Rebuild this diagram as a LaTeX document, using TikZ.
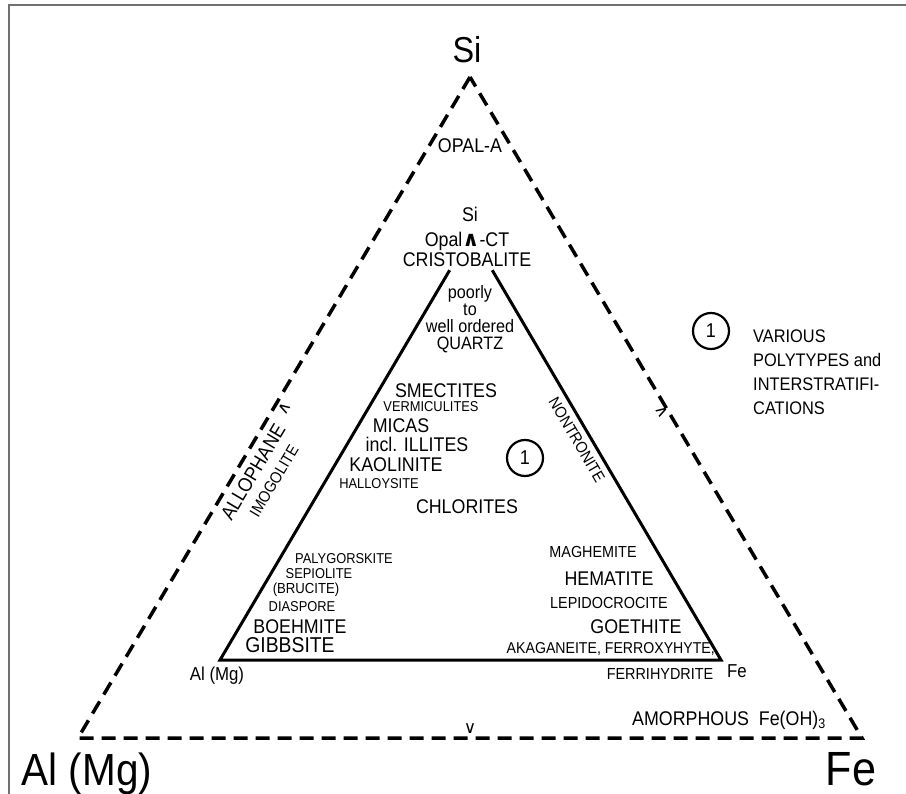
\documentclass[tikz,border=0pt]{standalone}
\usepackage{fontspec}
\setmainfont{Liberation Sans}[FakeStretch=0.9]
\newfontfamily\symbolfont{DejaVu Sans}
\usepackage{tikz}
\usetikzlibrary{calc}
\definecolor{framegray}{RGB}{112,112,112}

\begin{document}
\begin{tikzpicture}[x=1pt,y=-1pt,line join=miter,
  mineral/.style={inner sep=0pt,font=\fontsize{19.8}{21}\selectfont},
  mineralmid/.style={inner sep=0pt,font=\fontsize{16}{18}\selectfont},
  mineralsmall/.style={inner sep=0pt,font=\fontsize{14.3}{16}\selectfont},
  cornerbig/.style={inner sep=0pt,font=\fontsize{45}{49}\selectfont},
  cornersmall/.style={inner sep=0pt,font=\fontsize{18.7}{20}\selectfont},
  sidetick/.style={inner sep=0pt,font=\symbolfont\fontsize{17}{17}\selectfont},
  polynum/.style={draw,circle,line width=2.2pt,minimum size=36pt,inner sep=0pt,
    font=\fontsize{20}{20}\selectfont},
  outerside/.style={line width=3.5pt,dash pattern=on 14pt off 8pt},
  innerside/.style={line width=3pt}]
\useasboundingbox (0,0) rectangle (906,794);
\draw[framegray,line width=1.3pt] (9,794) -- (9,5) -- (906,5);

% outer triangle
\coordinate (oSi) at (470,77);
\coordinate (oAl) at (78,738);
\coordinate (oFe) at (862,738);
\draw[outerside] (oSi) -- (oAl) -- (oFe) -- cycle;
\node[cornerbig,font=\fontsize{36}{40}\selectfont,anchor=base] (lblSi) at (467,63) {Si};
\node[cornerbig,anchor=base] (lblAl) at (87,785) {Al (Mg)};
\node[cornerbig,font=\fontsize{48}{52}\selectfont,anchor=base] (lblFe) at (851,785) {Fe};
\node[mineral,anchor=base] (opalA) at (470,153) {OPAL-A};
\node[mineral,rotate=59.3] (allophane) at (253,472) {ALLOPHANE};
\node[mineralmid,rotate=59.3] (imogolite) at (274,481) {IMOGOLITE};
\node[mineral,anchor=base west] (amorphous) at (632,725) {AMORPHOUS\ \ Fe(OH)\textsubscript{3}};
\node[sidetick,rotate=-120.7] (tickAl) at (285,408) {∨};
\node[sidetick,rotate=120.7] (tickFe) at (662,412) {∨};
\node[sidetick] (tickBase) at (470,729) {∨};

% inner triangle
\coordinate (iSi) at (471,234);
\coordinate (iAl) at (220,660);
\coordinate (iFe) at (721,660);
\draw[innerside] ($(iSi)!0.085!(iAl)$) -- (iAl) -- (iFe) -- ($(iSi)!0.085!(iFe)$);
\node[mineral,anchor=base] (lblSiIn) at (470,222) {Si};
\node[mineral,anchor=base] (opalCT) at (467,247)
  {Opal{\symbolfont\bfseries\fontsize{21}{21}\selectfont ∧}-CT};
\node[mineral,anchor=base] (cristobalite) at (467,267) {CRISTOBALITE};
\node[inner sep=0pt,align=center,font=\fontsize{18}{17}\selectfont] (quartz) at (470,319)
  {poorly\\to\\well ordered\\QUARTZ};
\node[cornersmall,anchor=base] (lblAlIn) at (217,680) {Al (Mg)};
\node[cornersmall,anchor=base] (lblFeIn) at (737,677) {Fe};

% sheet silicates
\node[mineral,anchor=base] (smectites) at (446,398) {SMECTITES};
\node[mineralsmall,anchor=base] (vermiculites) at (431,412) {VERMICULITES};
\node[mineral,anchor=base] (micas) at (401,433) {MICAS};
\node[mineral,anchor=base] (illites) at (417,452) {incl. ILLITES};
\node[mineral,anchor=base] (kaolinite) at (396,472) {KAOLINITE};
\node[mineralsmall,anchor=base] (halloysite) at (379,489) {HALLOYSITE};
\node[mineral,anchor=base] (chlorites) at (467,514) {CHLORITES};
\node[polynum] (polyIn) at (525,458) {1};
\node[mineralmid,rotate=-59.7] (nontronite) at (577,440) {NONTRONITE};

% Al corner
\node[mineralsmall,anchor=base] (palygorskite) at (344,563) {PALYGORSKITE};
\node[mineralsmall,anchor=base] (sepiolite) at (319,578) {SEPIOLITE};
\node[mineralsmall,font=\fontsize{14.6}{16}\selectfont,anchor=base] (brucite) at (306,593) {(BRUCITE)};
\node[mineralsmall,anchor=base] (diaspore) at (302,611) {DIASPORE};
\node[mineral,anchor=base] (boehmite) at (300,633) {BOEHMITE};
\node[mineral,font=\fontsize{21.5}{23}\selectfont,anchor=base] (gibbsite) at (290,652) {GIBBSITE};

% Fe corner
\node[mineralmid,anchor=base] (maghemite) at (593,558) {MAGHEMITE};
\node[mineral,anchor=base] (hematite) at (609,585) {HEMATITE};
\node[mineralmid,anchor=base] (lepidocrocite) at (609,608) {LEPIDOCROCITE};
\node[mineral,anchor=base] (goethite) at (636,633) {GOETHITE};
\node[mineralmid,font=\fontsize{15.7}{17}\selectfont,anchor=base east] (akaganeite) at (715,653)
  {AKAGANEITE, FERROXYHYTE,};
\node[mineralmid,anchor=base] (ferrihydrite) at (660,679) {FERRIHYDRITE};

% key
\node[polynum] (polyKey) at (711,331) {1};
\node[anchor=north west,inner sep=0pt,align=left,font=\fontsize{18.2}{24}\selectfont] (polytypes)
  at (753,330) {VARIOUS\\POLYTYPES and\\INTERSTRATIFI-\\CATIONS};
\end{tikzpicture}
\end{document}
